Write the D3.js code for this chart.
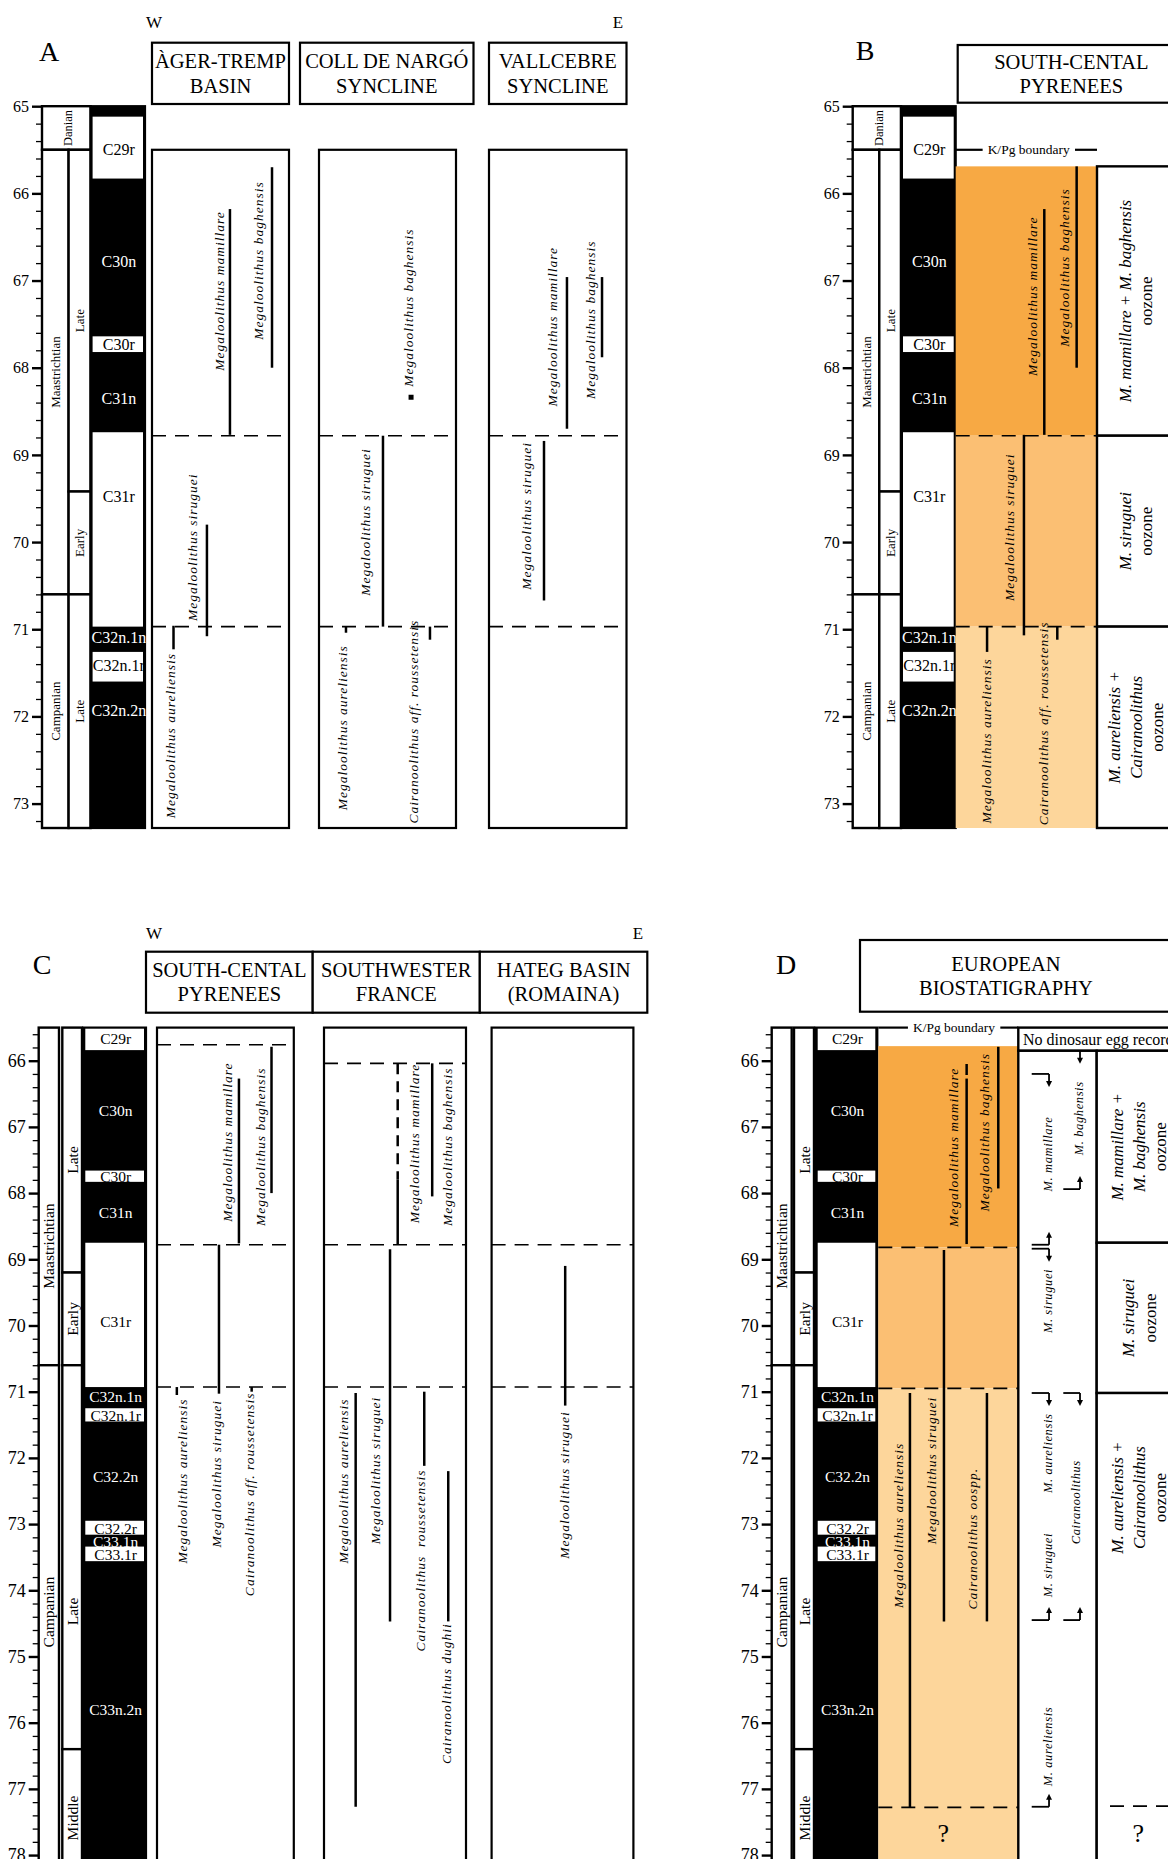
<!DOCTYPE html>
<html>
<head>
<meta charset="utf-8">
<script src="https://cdn.jsdelivr.net/npm/d3@7"></script>
<style>
  body { margin: 0; background: #fff; }
  svg { display: block; font-family: "Liberation Serif", "Times New Roman", serif; }
</style>
</head>
<body>
<svg id="chart" width="1168" height="1859"></svg>
<script>
// ---------- data (ages in Ma) ----------
const majorAB = [65, 66, 67, 68, 69, 70, 71, 72, 73];
const majorCD = [66, 67, 68, 69, 70, 71, 72, 73, 74, 75, 76, 77, 78];

const stagesAB = [
  { name: "Danian", top: 65.0, base: 65.5, col: "both" },
  { name: "Maastrichtian", top: 65.5, base: 70.6, col: "stage" },
  { name: "Campanian", top: 70.6, base: 73.28, col: "stage" },
  { name: "Late", top: 65.5, base: 69.42, col: "sub" },
  { name: "Early", top: 69.42, base: 70.6, col: "sub" },
  { name: "Late", top: 70.6, base: 73.28, col: "sub" }
];
const stagesCD = [
  { name: "Maastrichtian", top: 65.5, base: 70.6, col: "stage", at: 68.8 },
  { name: "Campanian", top: 70.6, base: 78.1, col: "stage", at: 74.33 },
  { name: "Late", top: 65.5, base: 69.2, col: "sub", at: 67.5 },
  { name: "Early", top: 69.2, base: 70.6, col: "sub", at: 69.9 },
  { name: "Late", top: 70.6, base: 76.4, col: "sub", at: 74.32 },
  { name: "Middle", top: 76.4, base: 78.1, col: "sub", at: 77.44 }
];

// n = normal polarity (black)
const chronsAB = [
  { id: "", top: 65.0, base: 65.12, n: true },
  { id: "C29r", top: 65.12, base: 65.83, n: false, at: 65.5 },
  { id: "C30n", top: 65.83, base: 67.64, n: true, at: 66.78 },
  { id: "C30r", top: 67.64, base: 67.82, n: false, at: 67.73 },
  { id: "C31n", top: 67.82, base: 68.74, n: true, at: 68.35 },
  { id: "C31r", top: 68.74, base: 70.97, n: false, at: 69.48 },
  { id: "C32n.1n", top: 70.97, base: 71.26, n: true, at: 71.1 },
  { id: "C32n.1r", top: 71.26, base: 71.6, n: false, at: 71.42 },
  { id: "C32n.2n", top: 71.6, base: 73.28, n: true, at: 71.93 }
];
const chronsCD = [
  { id: "C29r", top: 65.5, base: 65.84, n: false, at: 65.67 },
  { id: "C30n", top: 65.84, base: 67.66, n: true, at: 66.75 },
  { id: "C30r", top: 67.66, base: 67.83, n: false, at: 67.75 },
  { id: "C31n", top: 67.83, base: 68.75, n: true, at: 68.3 },
  { id: "C31r", top: 68.75, base: 70.93, n: false, at: 69.94 },
  { id: "C32n.1n", top: 70.93, base: 71.25, n: true, at: 71.07 },
  { id: "C32n.1r", top: 71.25, base: 71.45, n: false, at: 71.36 },
  { id: "C32.2n", top: 71.45, base: 72.95, n: true, at: 72.28 },
  { id: "C32.2r", top: 72.95, base: 73.16, n: false, at: 73.07 },
  { id: "C33.1n", top: 73.16, base: 73.34, n: true, at: 73.26 },
  { id: "C33.1r", top: 73.34, base: 73.56, n: false, at: 73.46 },
  { id: "C33n.2n", top: 73.56, base: 78.1, n: true, at: 75.8 }
];

const headersA = [["ÀGER-TREMP", "BASIN"], ["COLL DE NARGÓ", "SYNCLINE"], ["VALLCEBRE", "SYNCLINE"]];
const headerB = ["SOUTH-CENTAL", "PYRENEES"];
const headersC = [["SOUTH-CENTAL", "PYRENEES"], ["SOUTHWESTER", "FRANCE"], ["HATEG BASIN", "(ROMAINA)"]];
const headerD = ["EUROPEAN", "BIOSTATIGRAPHY"];

// ranges: lane = line position across its column (0-1), label = label position, at = label centre (Ma)
const agerTremp = [
  { name: "Megaloolithus mamillare", top: 66.18, base: 68.77, lane: 0.569, label: 0.496, at: 67.12 },
  { name: "Megaloolithus baghensis", top: 65.70, base: 68.00, lane: 0.876, label: 0.781, at: 66.77 },
  { name: "Megaloolithus siruguei", top: 69.80, base: 71.08, lane: 0.401, label: 0.292, at: 70.06 },
  { name: "Megaloolithus aureliensis", top: 70.96, base: 71.23, lane: 0.157, label: 0.136, at: 72.22 }
];
const collDeNargo = [
  { name: "Megaloolithus baghensis", top: 68.31, base: 68.37, lane: 0.672, label: 0.650, at: 67.31, point: true },
  { name: "Megaloolithus siruguei", top: 68.78, base: 70.97, lane: 0.467, label: 0.336, at: 69.77 },
  { name: "Megaloolithus aureliensis", top: 70.97, base: 71.04, lane: 0.197, label: 0.175, at: 72.13 },
  { name: "Cairanoolithus aff. roussetensis", top: 70.97, base: 71.12, lane: 0.810, label: 0.693, at: 72.06 }
];
const vallcebre = [
  { name: "Megaloolithus mamillare", top: 66.96, base: 68.70, lane: 0.567, label: 0.465, at: 67.53 },
  { name: "Megaloolithus baghensis", top: 66.96, base: 67.88, lane: 0.822, label: 0.735, at: 67.45 },
  { name: "Megaloolithus siruguei", top: 68.84, base: 70.67, lane: 0.400, label: 0.276, at: 69.70 }
];
const pyreneesB = [
  { name: "Megaloolithus mamillare", top: 66.18, base: 68.77, lane: 0.627, label: 0.540, at: 67.18 },
  { name: "Megaloolithus baghensis", top: 65.69, base: 68.00, lane: 0.856, label: 0.773, at: 66.85 },
  { name: "Megaloolithus siruguei", top: 68.77, base: 71.07, lane: 0.483, label: 0.384, at: 69.83 },
  { name: "Megaloolithus aureliensis", top: 70.97, base: 71.26, lane: 0.222, label: 0.219, at: 72.28 },
  { name: "Cairanoolithus aff. roussetensis", top: 70.97, base: 71.12, lane: 0.719, label: 0.618, at: 72.08 }
];
const pyreneesC = [
  { name: "Megaloolithus mamillare", top: 66.27, base: 68.76, lane: 0.599, label: 0.512, at: 67.23 },
  { name: "Megaloolithus baghensis", top: 65.79, base: 68.00, lane: 0.837, label: 0.753, at: 67.30 },
  { name: "Megaloolithus siruguei", top: 68.78, base: 71.03, lane: 0.453, label: 0.436, at: 72.24 },
  { name: "Megaloolithus aureliensis", top: 70.93, base: 71.05, lane: 0.145, label: 0.183, at: 72.35 },
  { name: "Cairanoolithus aff. roussetensis", top: 70.93, base: 71.00, lane: 0.692, label: 0.673, at: 72.55 }
];
const swFrance = [
  { name: "Megaloolithus mamillare", top: 66.04, base: 68.78, dashedTo: 67.80, lane: 0.519, label: 0.638, at: 67.25 },
  { name: "Megaloolithus baghensis", top: 66.04, base: 68.05, lane: 0.762, label: 0.873, at: 67.30 },
  { name: "Megaloolithus siruguei", top: 68.85, base: 74.47, lane: 0.465, label: 0.365, at: 72.19 },
  { name: "Megaloolithus aureliensis", top: 71.02, base: 77.27, lane: 0.223, label: 0.134, at: 72.35 },
  { name: "Cairanoolithus  roussetensis", top: 71.00, base: 72.12, lane: 0.706, label: 0.682, at: 73.55 },
  { name: "Cairanoolithus dughii", top: 72.20, base: 74.47, lane: 0.875, label: 0.866, at: 75.56 }
];
const hateg = [
  { name: "Megaloolithus siruguei", top: 69.10, base: 71.21, lane: 0.519, label: 0.511, at: 72.41 }
];
const europeD = [
  { name: "Megaloolithus mamillare", top: 66.05, base: 68.77, dashedTo: 66.27, lane: 0.631, label: 0.536, at: 67.31 },
  { name: "Megaloolithus baghensis", top: 65.79, base: 67.93, lane: 0.857, label: 0.762, at: 67.08 },
  { name: "Megaloolithus siruguei", top: 68.86, base: 74.47, lane: 0.469, label: 0.381, at: 72.19 },
  { name: "Megaloolithus aureliensis", top: 71.02, base: 77.28, lane: 0.226, label: 0.143, at: 73.02 },
  { name: "Cairanoolithus oospp.", top: 71.02, base: 74.47, lane: 0.776, label: 0.671, at: 73.22 }
];

const dashesA = [68.78, 70.97];
const dashesB = [68.78, 70.97];
const dashesC = [[65.76, 68.78, 70.93], [66.04, 68.78, 70.93], [68.78, 70.93]];
const dashesD = [68.82, 70.95, 77.28];

const bandsB = [{ top: 65.69, base: 68.78, tone: 0 }, { top: 68.78, base: 70.97, tone: 1 }, { top: 70.97, base: 73.28, tone: 2 }];
const bandsD = [{ top: 65.78, base: 68.82, tone: 0 }, { top: 68.82, base: 70.95, tone: 1 }, { top: 70.95, base: 78.1, tone: 2 }];

const zonesB = [
  { lines: ["M. mamillare + M. baghensis", "oozone"], top: 65.69, base: 68.78 },
  { lines: ["M. siruguei", "oozone"], top: 68.78, base: 70.97 },
  { lines: ["M. aureliensis +", "Cairanoolithus", "oozone"], top: 70.97, base: 73.28 }
];
const zonesD = [
  { lines: ["M. mamillare +", "M. baghensis", "oozone"], top: 65.85, base: 68.75 },
  { lines: ["M. siruguei", "oozone"], top: 68.75, base: 71.02 },
  { lines: ["M. aureliensis +", "Cairanoolithus", "oozone"], top: 71.02, base: 78.1, at: 72.6 }
];

const marksD = [
  { lane: "left", at: 66.20, dir: "down" },
  { lane: "left", at: 68.78, dir: "up" },
  { lane: "left", at: 68.84, dir: "down" },
  { lane: "left", at: 71.02, dir: "down" },
  { lane: "left", at: 74.45, dir: "up" },
  { lane: "left", at: 77.27, dir: "up" },
  { lane: "right", at: 65.85, dir: "down", bare: true },
  { lane: "right", at: 67.94, dir: "up" },
  { lane: "right", at: 71.02, dir: "down" },
  { lane: "right", at: 74.45, dir: "up" }
];
const markNamesD = [
  { name: "M. mamillare", lane: "left", at: 67.41 },
  { name: "M. siruguei", lane: "left", at: 69.63 },
  { name: "M. aureliensis", lane: "left", at: 71.93 },
  { name: "M. siruguei", lane: "left", at: 73.62 },
  { name: "M. aureliensis", lane: "left", at: 76.36 },
  { name: "M. baghensis", lane: "right", at: 66.87 },
  { name: "Cairanoolithus", lane: "right", at: 72.67 }
];

// ---------- layout ----------
const oranges = ["#f7a944", "#fbbf73", "#fdd69b"];
const svg = d3.select("#chart");
const yAB = d3.scaleLinear().domain([65, 73.28]).range([106.2, 828]);
const yCD = d3.scaleLinear().domain([65.5, 78.1]).range([1027.6, 1861.7]);

const LAY = {
  A: { axis: 42, stage: [42, 68.6], sub: [68.6, 90.6], chron: [90.6, 145] },
  B: { axis: 852.7, stage: [852.7, 879.3], sub: [879.3, 901], chron: [901, 955.7] },
  C: { axis: 38.7, stage: [38.7, 59], sub: [62.3, 82], chron: [83.3, 146] },
  D: { axis: 771.7, stage: [771.7, 791.7], sub: [794, 814], chron: [815.7, 877.3] }
};

function rotText(g, x, y, text, size, opt = {}) {
  return g.append("text")
    .attr("transform", `translate(${x},${y}) rotate(-90)`)
    .attr("text-anchor", "middle")
    .attr("dominant-baseline", "central")
    .attr("font-size", size)
    .attr("font-style", opt.italic ? "italic" : null)
    .attr("letter-spacing", opt.spacing || null)
    .attr("fill", opt.fill || "#000")
    .style("white-space", "pre")
    .text(text);
}

function plainText(x, y, text, size, anchor = "middle") {
  return svg.append("text").attr("x", x).attr("y", y)
    .attr("text-anchor", anchor).attr("dominant-baseline", "central")
    .attr("font-size", size).text(text);
}

function box(g, x0, x1, y0, y1, fill = "#fff", sw = 2.2) {
  return g.append("rect").attr("x", x0).attr("y", y0)
    .attr("width", x1 - x0).attr("height", y1 - y0)
    .attr("fill", fill).attr("stroke", fill === "none" || sw ? "#000" : null)
    .attr("stroke-width", sw);
}

function header(x0, x1, yt, yb, lines, cx) {
  box(svg, x0, x1, yt, yb);
  const c = cx != null ? cx : (x0 + x1) / 2, m = (yt + yb) / 2;
  lines.forEach((t, i) => plainText(c, m + (i - 0.5) * 24.4, t, 20.5));
}

function timescale(y, o, stages, chrons, major, fs) {
  const g = svg.append("g");
  const [d0, d1] = y.domain();
  const minor = d3.range(Math.round(d0 * 5), Math.round(d1 * 5) + 1).map(v => v / 5)
    .filter(v => v > d0 && !Number.isInteger(v));
  g.append("g").attr("transform", `translate(${o.axis},0)`)
    .call(d3.axisLeft(y).tickValues(minor).tickSize(6).tickSizeOuter(0).tickFormat(""))
    .call(s => s.select(".domain").remove())
    .selectAll("line").attr("stroke-width", 1.3);
  const ax = g.append("g").attr("transform", `translate(${o.axis},0)`)
    .call(d3.axisLeft(y).tickValues(major).tickSize(10).tickPadding(3).tickSizeOuter(0).tickFormat(d3.format("d")));
  ax.attr("font-family", null).attr("font-size", fs.tick);
  ax.select(".domain").attr("stroke-width", 2.2);
  ax.selectAll(".tick line").attr("stroke-width", 2.4);

  // stage / substage columns
  stages.forEach(s => {
    const xr = s.col === "both" ? [o.stage[0], o.sub[1]] : o[s.col];
    box(g, xr[0], xr[1], y(s.top), y(s.base), "#fff", 2.4);
    const at = s.at != null ? s.at : (s.top + s.base) / 2;
    rotText(g, (xr[0] + xr[1]) / 2 + (s.col === "both" ? 2 : 0), y(at), s.name, s.col === "both" ? fs.stage - 0.5 : fs.stage);
  });

  // magnetochrons
  const [c0, c1] = o.chron;
  const top = chrons[0].top, base = chrons[chrons.length - 1].base;
  box(g, c0, c1, y(top), y(base), "#000", 0);
  chrons.filter(c => !c.n).forEach(c => box(g, c0 + 2, c1 - 2, y(c.top), y(c.base), "#fff", 0));
  box(g, c0, c1, y(top), y(base), "none", 2.2);
  chrons.filter(c => c.id).forEach(c => {
    g.append("text").attr("x", (c0 + c1) / 2 + 1).attr("y", y(c.at))
      .attr("text-anchor", "middle").attr("dominant-baseline", "central")
      .attr("font-size", fs.chron).attr("fill", c.n ? "#fff" : "#000").text(c.id);
  });
}

function dashLines(g, y, x0, x1, list) {
  list.forEach(v => g.append("line").attr("x1", x0).attr("x2", x1).attr("y1", y(v)).attr("y2", y(v))
    .attr("stroke", "#000").attr("stroke-width", 1.6).attr("stroke-dasharray", "14,9"));
}

function ranges(g, y, x0, x1, list) {
  const xs = d3.scaleLinear().domain([0, 1]).range([x0, x1]);
  list.forEach(d => {
    const x = xs(d.lane);
    if (d.point) {
      g.append("rect").attr("x", x - 2.5).attr("y", y(d.top)).attr("width", 5).attr("height", 5).attr("fill", "#000");
    } else {
      const solidTop = d.dashedTo != null ? d.dashedTo : d.top;
      if (d.dashedTo != null) {
        g.append("line").attr("x1", x).attr("x2", x).attr("y1", y(d.top)).attr("y2", y(d.dashedTo))
          .attr("stroke", "#000").attr("stroke-width", 2.5).attr("stroke-dasharray", "11,7");
      }
      g.append("line").attr("x1", x).attr("x2", x).attr("y1", y(solidTop)).attr("y2", y(d.base))
        .attr("stroke", "#000").attr("stroke-width", 2.5);
    }
    rotText(g, xs(d.label), y(d.at), d.name, 13.5, { italic: true, spacing: 1 });
  });
}

function zoneColumn(y, x0, x1, zones) {
  const g = svg.append("g");
  zones.forEach(z => {
    box(g, x0, x1, y(z.top), y(z.base), "#fff", 2.4);
    const at = z.at != null ? z.at : (z.top + z.base) / 2;
    const t = g.append("g").attr("transform", `translate(${(x0 + x1) / 2},${y(at)}) rotate(-90)`);
    const n = z.lines.length;
    z.lines.forEach((line, i) => t.append("text").attr("x", 0).attr("y", (i - (n - 1) / 2) * 21.6)
      .attr("text-anchor", "middle").attr("dominant-baseline", "central").attr("font-size", 17)
      .attr("font-style", line === "oozone" ? null : "italic").text(line));
  });
  return g;
}

function kpg(yv, x0, x1, cx) {
  const t = plainText(cx, yv, "K/Pg boundary", 13.5);
  const bb = t.node().getBBox();
  svg.append("line").attr("x1", x0).attr("x2", bb.x - 5).attr("y1", yv).attr("y2", yv).attr("stroke", "#000").attr("stroke-width", 2.2);
  svg.append("line").attr("x1", bb.x + bb.width + 5).attr("x2", x1).attr("y1", yv).attr("y2", yv).attr("stroke", "#000").attr("stroke-width", 2.2);
}

// ---------- panel A ----------
plainText(49, 51, "A", 28);
plainText(154, 22, "W", 17);
plainText(618, 22, "E", 17);
const headXA = [[152, 289], [300, 473.5], [489, 626.5]];
headersA.forEach((h, i) => header(headXA[i][0], headXA[i][1], 42.7, 104, h));
timescale(yAB, LAY.A, stagesAB, chronsAB, majorAB, { tick: 16, stage: 13, chron: 16 });
const boxXA = [[152, 289], [319, 456], [489, 626.5]];
[agerTremp, collDeNargo, vallcebre].forEach((list, i) => {
  const g = svg.append("g");
  box(g, boxXA[i][0], boxXA[i][1], yAB(65.5), yAB(73.28));
  dashLines(g, yAB, boxXA[i][0], boxXA[i][1], dashesA);
  ranges(g, yAB, boxXA[i][0], boxXA[i][1], list);
});

// ---------- panel B ----------
plainText(865, 50, "B", 28);
header(957.7, 1185, 45, 102.7, headerB);
timescale(yAB, LAY.B, stagesAB, chronsAB, majorAB, { tick: 16, stage: 13, chron: 16 });
{
  const g = svg.append("g");
  const [x0, x1] = [955.7, 1097];
  bandsB.forEach(b => box(g, x0, x1, yAB(b.top), yAB(b.base), oranges[b.tone], 0));
  dashLines(g, yAB, x0, x1, dashesB);
  ranges(g, yAB, x0, x1, pyreneesB);
  kpg(yAB(65.5), x0, x1, 1028.7);
  zoneColumn(yAB, 1097, 1175, zonesB);
}

// ---------- panel C ----------
plainText(42, 964, "C", 28);
plainText(154, 933, "W", 17);
plainText(638, 933, "E", 17);
const headXC = [[146, 312.7], [312.7, 479.8], [479.8, 647.3]];
headersC.forEach((h, i) => header(headXC[i][0], headXC[i][1], 951.7, 1012.7, h));
timescale(yCD, LAY.C, stagesCD, chronsCD, majorCD, { tick: 18, stage: 15.5, chron: 15.5 });
const boxXC = [[157, 293.8], [324, 466], [491.6, 633.4]];
[pyreneesC, swFrance, hateg].forEach((list, i) => {
  const g = svg.append("g");
  box(g, boxXC[i][0], boxXC[i][1], yCD(65.5), yCD(78.1));
  dashLines(g, yCD, boxXC[i][0], boxXC[i][1], dashesC[i]);
  ranges(g, yCD, boxXC[i][0], boxXC[i][1], list);
});

// ---------- panel D ----------
plainText(786, 964, "D", 28);
header(860, 1200, 940, 1011.7, headerD, 1006);
timescale(yCD, LAY.D, stagesCD, chronsCD, majorCD, { tick: 18, stage: 15.5, chron: 15.5 });
{
  const g = svg.append("g");
  const [x0, x1] = [878.3, 1018.3];
  bandsD.forEach(b => box(g, x0, x1, yCD(b.top), yCD(b.base), oranges[b.tone], 0));
  dashLines(g, yCD, x0, x1, dashesD);
  ranges(g, yCD, x0, x1, europeD);
  plainText(943.3, yCD(77.67), "?", 26);
  kpg(yCD(65.5), x0, x1, 954);

  // "no record" strip, range-arrow column and oozones
  box(svg, 1018.3, 1200, yCD(65.5), yCD(65.85), "#fff", 2.4);
  plainText(1023, yCD(65.675), "No dinosaur egg record", 16, "start");
  const ga = svg.append("g");
  box(ga, 1018.3, 1096.7, yCD(65.85), yCD(78.1), "#fff", 2.4);
  const xa = d3.scaleLinear().domain([0, 1]).range([1018.3, 1096.7]);
  const lanes = { left: [0.171, 0.392, 0.383], right: [0.574, 0.787, 0.77] };
  marksD.forEach(m => {
    const [l, r] = lanes[m.lane];
    const xl = xa(l), xr = xa(r), y0 = yCD(m.at);
    const s = m.dir === "down" ? 1 : -1, tip = y0 + s * 13;
    if (!m.bare) ga.append("line").attr("x1", xl).attr("x2", xr).attr("y1", y0).attr("y2", y0).attr("stroke", "#000").attr("stroke-width", 1.8);
    ga.append("line").attr("x1", xr).attr("x2", xr).attr("y1", y0).attr("y2", tip - s * 4).attr("stroke", "#000").attr("stroke-width", 1.8);
    ga.append("path").attr("d", `M${xr - 3},${tip - s * 6}L${xr + 3},${tip - s * 6}L${xr},${tip}Z`).attr("fill", "#000");
  });
  markNamesD.forEach(d => rotText(ga, xa(lanes[d.lane][2]) + (d.name === "Cairanoolithus" ? -3 : 0), yCD(d.at), d.name, 12.5, { italic: true, spacing: 0.6 }));

  zoneColumn(yCD, 1096.7, 1182, zonesD);
  dashLines(svg, yCD, 1110, 1200, [77.26]);
  plainText(1138.3, yCD(77.67), "?", 26);
}
</script>
</body>
</html>
